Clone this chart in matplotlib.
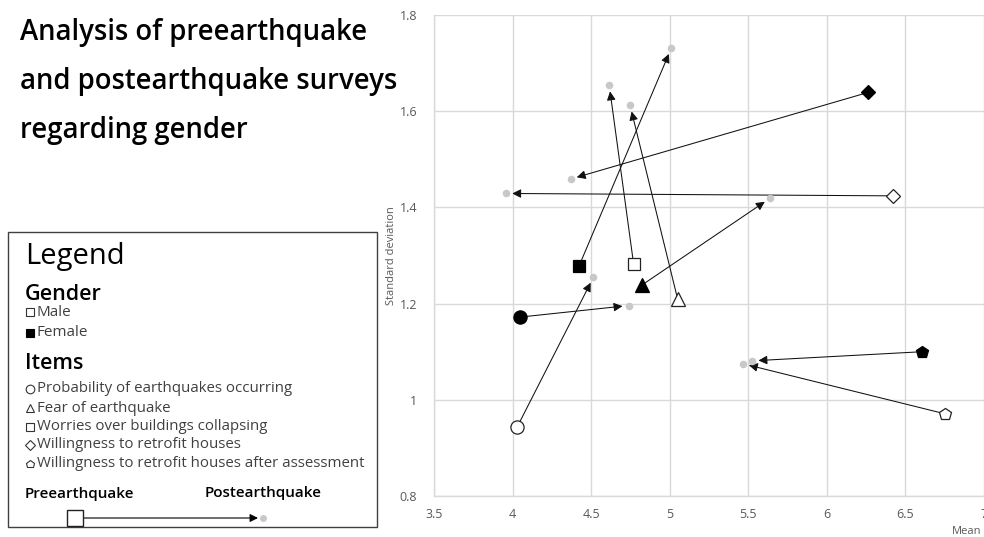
import matplotlib
matplotlib.use("Agg")
import matplotlib.pyplot as plt
from matplotlib.patches import Rectangle

plt.rcParams['font.family'] = ['Open Sans', 'DejaVu Sans']

# ---------------- data ----------------
items = ["Probability of earthquakes occurring", "Fear of earthquake",
         "Worries over buildings collapsing", "Willingness to retrofit houses",
         "Willingness to retrofit houses after assessment"]
item_markers = ['o', '^', 's', 'D', 'p']

male_pre_mean = [4.03, 5.05, 4.77, 6.42, 6.75]
male_pre_sd = [0.944, 1.21, 1.283, 1.424, 0.971]
male_post_mean = [4.515, 4.748, 4.615, 3.958, 5.465]
male_post_sd = [1.255, 1.612, 1.654, 1.429, 1.075]

female_pre_mean = [4.049, 4.825, 4.424, 6.262, 6.608]
female_pre_sd = [1.172, 1.239, 1.279, 1.639, 1.100]
female_post_mean = [4.739, 5.638, 5.01, 4.37, 5.525]
female_post_sd = [1.196, 1.419, 1.731, 1.459, 1.081]

x_ticks = [3.5, 4, 4.5, 5, 5.5, 6, 6.5, 7]
x_tick_labels = ["3.5", "4", "4.5", "5", "5.5", "6", "6.5", "7"]
y_ticks = [0.8, 1.0, 1.2, 1.4, 1.6, 1.8]
y_tick_labels = ["0.8", "1", "1.2", "1.4", "1.6", "1.8"]

title_lines = ["Analysis of preearthquake", "and postearthquake surveys", "regarding gender"]

W, H = 984, 537
fig = plt.figure(figsize=(W / 100, H / 100), dpi=100)

def fx(px):
    return px / W

def fy(py):
    return 1 - py / H

# ---------------- main axes ----------------
ax = fig.add_axes([fx(434), fy(496), fx(984) - fx(434), fy(15) - fy(496)])
ax.set_xlim(3.5, 7)
ax.set_ylim(0.8, 1.8)
ax.set_xticks(x_ticks)
ax.set_xticklabels(x_tick_labels)
ax.set_yticks(y_ticks)
ax.set_yticklabels(y_tick_labels)
ax.tick_params(length=0, labelsize=9, labelcolor='#595959', pad=9)
ax.tick_params(axis='y', pad=12)
ax.grid(True, color='#d9d9d9', lw=1)
ax.set_axisbelow(True)
for s in ['top', 'right']:
    ax.spines[s].set_visible(False)
for s in ['left', 'bottom']:
    ax.spines[s].set_color('#d9d9d9')
    ax.spines[s].set_linewidth(1)
ax.set_ylabel("Standard deviation", fontsize=8, color='#595959')
ax.yaxis.set_label_coords(-0.068, 0.5)
ax.text(0.995, -0.062, "Mean", transform=ax.transAxes, ha='right', va='top',
        fontsize=8, color='#595959')

def arrow(a, x0, y0, x1, y1):
    a.annotate("", xy=(x1, y1), xytext=(x0, y0),
               arrowprops=dict(arrowstyle='-|>', color='#111111', lw=0.75,
                               mutation_scale=13, shrinkA=0, shrinkB=4.5),
               zorder=3)

for i in range(len(items)):
    arrow(ax, male_pre_mean[i], male_pre_sd[i], male_post_mean[i], male_post_sd[i])
    arrow(ax, female_pre_mean[i], female_pre_sd[i], female_post_mean[i], female_post_sd[i])

ax.scatter(male_post_mean, male_post_sd, s=30, color='#c8c8c8', zorder=4, linewidths=0)
ax.scatter(female_post_mean, female_post_sd, s=30, color='#c8c8c8', zorder=4, linewidths=0)

sizes = {'o': 9.5, '^': 9.5, 's': 8.5, 'D': 7, 'p': 9}
for i, m in enumerate(item_markers):
    ax.plot(male_pre_mean[i], male_pre_sd[i], marker=m, ms=sizes[m], mfc='white',
            mec='#222222', mew=0.9, zorder=5, clip_on=False)
    ax.plot(female_pre_mean[i], female_pre_sd[i], marker=m, ms=sizes[m], mfc='black',
            mec='black', mew=0.9, zorder=5, clip_on=False)

# ---------------- title ----------------
for k, line in enumerate(title_lines):
    fig.text(fx(20), fy(40 + 49 * k), line, fontsize=19.8, fontweight='semibold',
             ha='left', va='baseline', color='black', zorder=10)

# ---------------- legend panel ----------------
ov = fig.add_axes([0, 0, 1, 1])
ov.set_xlim(0, W)
ov.set_ylim(H, 0)
ov.axis('off')
ov.add_patch(Rectangle((8, 232), 369, 295, fill=False, ec='#404040', lw=1))

ov.text(25, 264, "Legend", fontsize=21, ha='left', va='baseline', color='black')
ov.text(25, 300, "Gender", fontsize=15.5, fontweight='semibold', ha='left', va='baseline')
ov.plot(30, 312, marker='s', ms=5.5, mfc='white', mec='#333333', mew=0.8)
ov.text(37, 312, "Male", fontsize=11, ha='left', va='center', color='#404040')
ov.plot(30, 333, marker='s', ms=5.5, mfc='black', mec='black', mew=0.8)
ov.text(37, 333, "Female", fontsize=11, ha='left', va='center', color='#404040')
ov.text(25, 369, "Items", fontsize=15.5, fontweight='semibold', ha='left', va='baseline')

item_y = [389, 408, 426.5, 445, 463.5]
leg_sizes = {'o': 6.2, '^': 6.2, 's': 5.5, 'D': 4.8, 'p': 6.2}
for m, name, yy in zip(item_markers, items, item_y):
    ov.plot(30, yy, marker=m, ms=leg_sizes[m], mfc='white', mec='#333333', mew=0.8)
    ov.text(37, yy, name, fontsize=10.8, ha='left', va='center', color='#404040')

ov.text(25, 498, "Preearthquake", fontsize=11, fontweight='semibold', ha='left', va='baseline')
ov.text(205, 497, "Postearthquake", fontsize=11, fontweight='semibold', ha='left', va='baseline')
ov.annotate("", xy=(258, 518), xytext=(75, 518),
            arrowprops=dict(arrowstyle='-|>', color='black', lw=0.8,
                            mutation_scale=12, shrinkA=0, shrinkB=0))
ov.plot(75, 518, marker='s', ms=11, mfc='white', mec='#222222', mew=1, zorder=5)
ov.plot(263, 518, marker='o', ms=5, mfc='#c8c8c8', mec='none', zorder=5)

fig.savefig("out.png", dpi=100)
